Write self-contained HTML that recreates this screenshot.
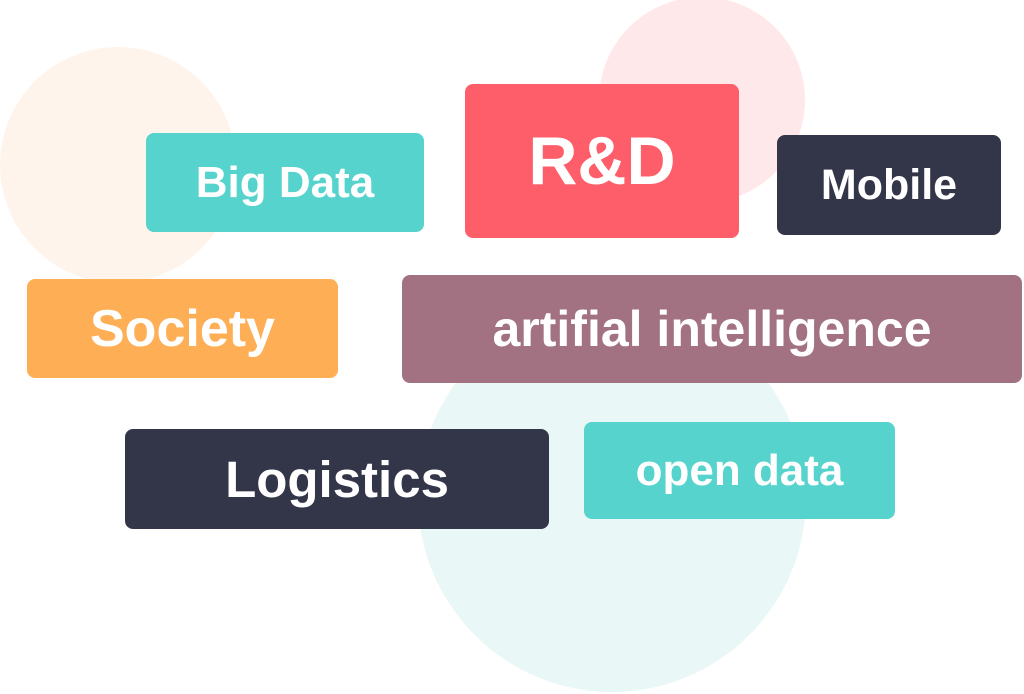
<!DOCTYPE html>
<html><head><meta charset="utf-8"><style>
body{margin:0;width:1024px;height:694px;background:#fff;position:relative;overflow:hidden;font-family:"Liberation Sans",sans-serif}
.c{position:absolute;border-radius:50%}
.b{position:absolute;border-radius:8px;color:#fff;font-weight:bold;display:flex;align-items:center;justify-content:center;white-space:nowrap}
</style></head><body>
<div class="c" style="left:0;top:47px;width:236px;height:236px;background:#fff4ec"></div>
<div class="c" style="left:599px;top:-3px;width:206px;height:206px;background:#ffe8ea"></div>
<div class="c" style="left:418px;top:304px;width:388px;height:388px;background:#e9f7f6"></div>
<div class="b" style="left:146px;top:133px;width:278px;height:99px;background:#56d3cc;font-size:44px">Big Data</div>
<div class="b" style="left:465px;top:84px;width:274px;height:154px;background:#fe5d6a;font-size:68px">R&amp;D</div>
<div class="b" style="left:777px;top:135px;width:224px;height:100px;background:#333649;font-size:43px">Mobile</div>
<div class="b" style="left:27px;top:279px;width:311px;height:99px;background:#feaf56;font-size:52px">Society</div>
<div class="b" style="left:402px;top:275px;width:620px;height:108px;background:#a27283;font-size:50px">artifial intelligence</div>
<div class="b" style="left:125px;top:429px;width:424px;height:100px;background:#333649;font-size:51px">Logistics</div>
<div class="b" style="left:584px;top:422px;width:311px;height:97px;background:#56d3cc;font-size:44px">open data</div>
</body></html>
